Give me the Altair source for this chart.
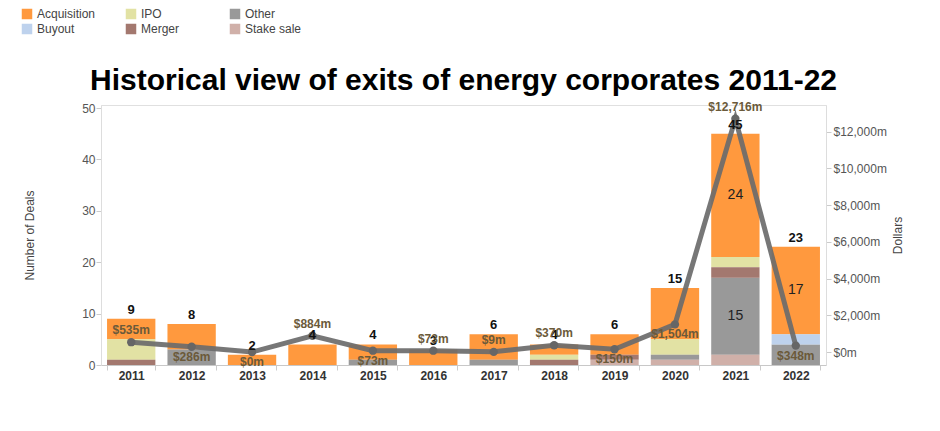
import altair as alt
import pandas as pd

years = [2011, 2012, 2013, 2014, 2015, 2016, 2017, 2018, 2019, 2020, 2021, 2022]
acquisition = [4, 5, 2, 4, 3, 3, 5, 2, 4, 10, 24, 17]
ipo = [4, 0, 0, 0, 0, 0, 0, 1, 0, 3, 2, 0]
other = [0, 3, 0, 0, 1, 0, 1, 0, 0, 1, 15, 4]
buyout = [0, 0, 0, 0, 0, 0, 0, 0, 0, 0, 0, 2]
merger = [1, 0, 0, 0, 0, 0, 0, 1, 1, 0, 2, 0]
stake_sale = [0, 0, 0, 0, 0, 0, 0, 0, 1, 1, 2, 0]
dollars = [535, 286, 0, 884, 73, 73, 9, 370, 150, 1504, 12716, 348]

legend_order = ["Acquisition", "IPO", "Other", "Buyout", "Merger", "Stake sale"]
colors = ["#ff7f0e", "#dbdb8d", "#7f7f7f", "#aec7e8", "#8c564b", "#c49c94"]
stack_order = ["Stake sale", "Other", "Merger", "IPO", "Buyout", "Acquisition"]
below_years = [2012, 2013, 2015, 2019, 2020, 2022]

series = {
    "Acquisition": acquisition,
    "IPO": ipo,
    "Other": other,
    "Buyout": buyout,
    "Merger": merger,
    "Stake sale": stake_sale,
}
rows = []
for t, vals in series.items():
    for y, v in zip(years, vals):
        rows.append({"year": y, "type": t, "count": v, "ord": stack_order.index(t)})
deals = pd.DataFrame(rows)
money = pd.DataFrame({"year": years, "dollars": dollars})

FONT = "Liberation Sans"

x_enc = alt.X(
    "year:O",
    title=None,
    scale=alt.Scale(paddingInner=0.2, paddingOuter=0.1),
    axis=alt.Axis(
        labelAngle=0, labelFontWeight="bold", labelColor="#333", labelFontSize=12,
        labelFont=FONT, tickBand="extent", tickColor="#ccc", tickSize=5,
        domainColor="#c8c8c8", labelPadding=0,
    ),
)

left_scale = alt.Scale(domain=[0, 50.6], nice=False)
left_axis = alt.Axis(
    values=[0, 10, 20, 30, 40, 50], labelColor="#555", labelFontSize=12, labelFont=FONT,
    tickSize=5, tickColor="#ccc", domainColor="#ddd", grid=False, labelPadding=1,
    titleFont=FONT, titleFontSize=12, titleFontWeight="normal", titleColor="#444",
    titleX=-72, titleY=130, titleBaseline="middle", titleAngle=270,
)

base = alt.Chart(deals).transform_filter("datum.count > 0").transform_stack(
    stack="count", groupby=["year"], sort=[alt.SortField("ord", order="ascending")],
    as_=["y0", "y1"],
)

bars = base.mark_bar(opacity=0.8).encode(
    x=x_enc,
    y=alt.Y("y0:Q", scale=left_scale, axis=left_axis, title="Number of Deals"),
    y2="y1:Q",
    color=alt.Color(
        "type:N",
        scale=alt.Scale(domain=legend_order, range=colors),
        legend=alt.Legend(
            title=None, orient="none", legendX=-80, legendY=-97, columns=3,
            direction="horizontal", symbolType="square", symbolSize=110,
            labelFont=FONT, labelFontSize=12, labelColor="#444", labelOffset=4,
            columnPadding=29, rowPadding=3, gridAlign="all", symbolStrokeWidth=0,
            padding=0,
        ),
    ),
)

inner = base.transform_filter("datum.count >= 15").transform_calculate(
    mid="(datum.y0 + datum.y1) / 2"
).mark_text(font=FONT, fontSize=14, color="#222", baseline="middle").encode(
    x=x_enc,
    y=alt.Y("mid:Q", scale=left_scale, axis=None),
    text="count:Q",
)

totals = alt.Chart(deals).transform_aggregate(
    total="sum(count)", groupby=["year"]
).mark_text(font=FONT, fontSize=13, fontWeight="bold", color="#111", baseline="middle", dy=-9).encode(
    x=x_enc,
    y=alt.Y("total:Q", scale=left_scale, axis=None),
    text="total:Q",
)

right_scale = alt.Scale(domain=[-708, 13460], nice=False, zero=False)
right_axis = alt.Axis(
    values=[0, 2000, 4000, 6000, 8000, 10000, 12000],
    labelExpr="'$' + format(datum.value, ',') + 'm'",
    labelColor="#555", labelFontSize=12, labelFont=FONT, tickSize=5, tickColor="#ccc",
    domainColor="#ddd", grid=False, labelPadding=2, orient="right",
    titleFont=FONT, titleFontSize=12, titleFontWeight="normal", titleColor="#444",
    titleX=71, titleY=130, titleBaseline="middle", titleAngle=270,
)

mbase = alt.Chart(money)

line = mbase.mark_line(color="#6b6b6b", strokeWidth=5, opacity=0.92).encode(
    x=x_enc, y=alt.Y("dollars:Q", scale=right_scale, axis=right_axis, title="Dollars")
)
y_r = alt.Y("dollars:Q", scale=right_scale, axis=None)
points = mbase.mark_circle(color="#666", size=70, opacity=1).encode(x=x_enc, y=y_r)

lab = mbase.transform_calculate(label="'$' + format(datum.dollars, ',') + 'm'")
lab_above = lab.transform_filter(
    ~alt.FieldOneOfPredicate(field="year", oneOf=below_years)
).mark_text(font=FONT, fontSize=12, fontWeight="bold", color="#6b5a3a", baseline="middle", dy=-12).encode(
    x=x_enc, y=y_r, text="label:N"
)
lab_below = lab.transform_filter(
    alt.FieldOneOfPredicate(field="year", oneOf=below_years)
).mark_text(font=FONT, fontSize=12, fontWeight="bold", color="#6b5a3a", baseline="middle", dy=10).encode(
    x=x_enc, y=y_r, text="label:N"
)

chart = alt.layer(
    bars, line, points, totals, inner, lab_above, lab_below
).resolve_scale(y="independent").properties(
    width=725,
    height=260,
    padding={"left": 93, "top": 97, "right": 100, "bottom": 50},
    autosize=alt.AutoSizeParams(type="none"),
    title=alt.TitleParams(
        "Historical view of exits of energy corporates 2011-22",
        font=FONT,
        fontSize=30, fontWeight="bold", color="#000", anchor="middle", offset=0, dy=88,
    ),
).configure_view(stroke="#e0e0e0")

chart.save("out.html", embed_options={"renderer": "svg", "actions": False})
